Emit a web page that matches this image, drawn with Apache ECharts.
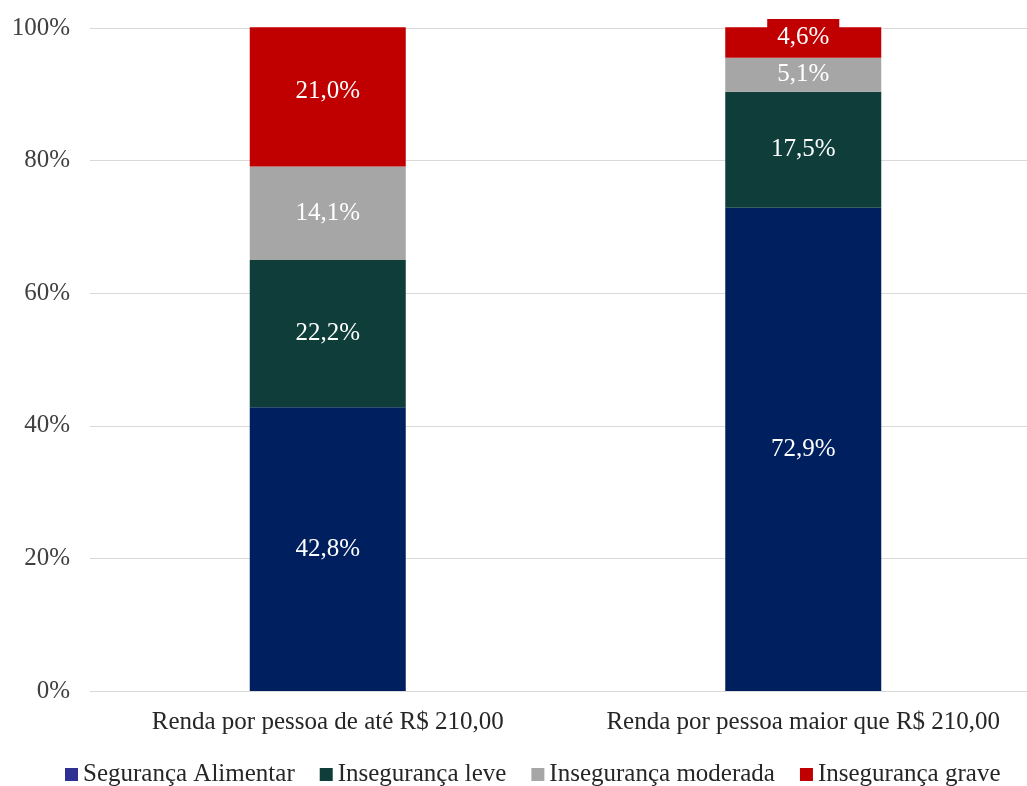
<!DOCTYPE html>
<html>
<head>
<meta charset="utf-8">
<script src="https://cdn.jsdelivr.net/npm/echarts@6/dist/echarts.min.js"></script>
<style>
  html, body { margin: 0; padding: 0; background: #ffffff; }
  #chart { width: 1027px; height: 786px; }
</style>
</head>
<body>
<div id="chart"></div>
<script>
// Renda domiciliar per capita e situação de segurança alimentar (%)
const categories = ['Renda por pessoa de até R$ 210,00', 'Renda por pessoa maior que R$ 210,00'];
const seriesNames = ['Segurança Alimentar', 'Insegurança leve', 'Insegurança moderada', 'Insegurança grave'];
const seguranca = [42.8, 72.9];
const insegLeve = [22.2, 17.5];
const insegModerada = [14.1, 5.1];
const insegGrave = [21.0, 4.6];
const yTicks = [0, 20, 40, 60, 80, 100];

const barColors = ['#001F5F', '#0E3D3A', '#A6A6A6', '#C00000'];
const legendColors = ['#2E3192', '#0E3D3A', '#A6A6A6', '#C00000'];
const FONT = '"Liberation Serif", "DejaVu Serif", serif';

const fmt = v => v.toFixed(1).replace('.', ',') + '%';

const baseLabel = {
  show: true,
  position: 'inside',
  color: '#ffffff',
  fontFamily: FONT,
  fontSize: 25,
  formatter: p => fmt(p.value)
};

function makeSeries(name, values, color, idx) {
  return {
    name: name,
    type: 'bar',
    stack: 'total',
    barWidth: 156,
    clip: false,
    itemStyle: { color: color },
    label: baseLabel,
    data: values.map((v, i) => {
      const item = { value: v };
      if (idx === 3 && i === 0) {
        item.label = { offset: [0, -6] };
      }
      if (idx === 3 && i === 1) {
        item.label = {
          backgroundColor: color,
          padding: [10, 10, 1, 10],
          lineHeight: 26,
          offset: [0, -5]
        };
      }
      return item;
    })
  };
}

const allValues = [seguranca, insegLeve, insegModerada, insegGrave];

const chart = echarts.init(document.getElementById('chart'));
chart.setOption({
  animation: false,
  backgroundColor: '#ffffff',
  textStyle: { fontFamily: FONT },
  grid: {
    left: 90, top: 28, width: 951, height: 663,
    containLabel: false,
    outerBoundsMode: 'none'
  },
  legend: {
    top: 757,
    left: 60,
    itemWidth: 13,
    itemHeight: 13,
    itemGap: 25,
    icon: 'rect',
    textStyle: { fontFamily: FONT, fontSize: 25, color: '#262626' },
    data: seriesNames.map((n, i) => ({ name: n, itemStyle: { color: legendColors[i] } }))
  },
  xAxis: {
    type: 'category',
    data: categories,
    axisLine: { show: false },
    axisTick: { show: false },
    axisLabel: {
      fontFamily: FONT, fontSize: 25, color: '#262626', margin: 19,
      interval: 0, hideOverlap: false
    }
  },
  yAxis: {
    type: 'value',
    min: yTicks[0],
    max: yTicks[yTicks.length - 1],
    interval: yTicks[1] - yTicks[0],
    axisLine: { show: false },
    axisTick: { show: false },
    splitLine: { lineStyle: { color: '#D9D9D9', width: 1 } },
    axisLabel: {
      fontFamily: FONT, fontSize: 25, color: '#404040', margin: 20,
      formatter: v => v + '%'
    }
  },
  series: seriesNames.map((n, i) => makeSeries(n, allValues[i], barColors[i], i))
});
</script>
</body>
</html>
